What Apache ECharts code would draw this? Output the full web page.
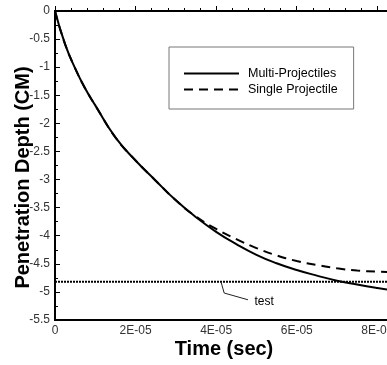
<!DOCTYPE html>
<html>
<head>
<meta charset="utf-8">
<script src="https://cdn.jsdelivr.net/npm/echarts@6/dist/echarts.min.js"></script>
<style>
	html, body { margin: 0; padding: 0; background: #fff; }
	#chart { width: 387px; height: 365px; }
</style>
</head>
<body>
<div id="chart"></div>
<script>
// time in seconds, depth in cm
const multiTime = [0, 0.25e-5, 0.5e-5, 0.75e-5, 1e-5, 1.5e-5, 2e-5, 2.5e-5, 3e-5, 3.5e-5, 4e-5, 4.5e-5, 5e-5, 5.5e-5, 6e-5, 6.5e-5, 7e-5, 7.5e-5, 8e-5, 8.4e-5];
const multiDepth = [0, -0.59, -1.02, -1.38, -1.68, -2.25, -2.66, -3.02, -3.37, -3.67, -3.93, -4.15, -4.34, -4.49, -4.61, -4.71, -4.80, -4.87, -4.93, -4.97];

const singleTime = [0, 0.25e-5, 0.5e-5, 0.75e-5, 1e-5, 1.5e-5, 2e-5, 2.5e-5, 3e-5, 3.5e-5, 4e-5, 4.5e-5, 5e-5, 5.5e-5, 6e-5, 6.5e-5, 7e-5, 7.5e-5, 8e-5, 8.4e-5];
const singleDepth = [0, -0.59, -1.02, -1.38, -1.68, -2.25, -2.66, -3.02, -3.37, -3.66, -3.88, -4.06, -4.22, -4.35, -4.45, -4.52, -4.58, -4.62, -4.64, -4.65];

const testTime = [0, 8.4e-5];
const testDepth = [-4.82, -4.82];

// leader from the test line down to its label
const leaderTime = [4.12e-5, 4.20e-5, 4.79e-5];
const leaderDepth = [-4.82, -5.02, -5.14];
const testLabel = { name: "test", time: 5.19e-5, depth: -5.18 };

const xTicks = [0, 2e-5, 4e-5, 6e-5, 8e-5];
const xMax = 8.39e-5;
const yTicks = [0, -0.5, -1, -1.5, -2, -2.5, -3, -3.5, -4, -4.5, -5, -5.5];

const seriesNames = ["Multi-Projectiles", "Single Projectile"];

const pairs = (xs, ys) => xs.map((x, i) => [x, ys[i]]);

const font = "'Liberation Sans', Arial, Helvetica, sans-serif";

const chart = echarts.init(document.getElementById("chart"), null, { renderer: "canvas" });

chart.setOption({
	animation: false,
	grid: {
		left: 55,
		top: 11,
		right: -6,
		bottom: 45,
		outerBoundsMode: "none",
		containLabel: false,
		show: true,
		borderColor: "#000",
		borderWidth: 2
	},
	legend: {
		data: seriesNames,
		orient: "vertical",
		left: 169,
		top: 47,
		padding: [20, 16, 13, 14],
		itemWidth: 55,
		itemHeight: 14,
		itemGap: 3,
		itemStyle: { opacity: 0 },
		borderColor: "#777",
		borderWidth: 1,
		textStyle: { fontFamily: font, fontSize: 12.5, color: "#000", padding: [0, 0, 0, 4] }
	},
	xAxis: {
		type: "value",
		min: xTicks[0],
		max: xMax,
		interval: xTicks[1] - xTicks[0],
		name: "Time (sec)",
		nameLocation: "middle",
		nameGap: 19,
		nameMoveOverlap: false,
		nameTextStyle: { fontFamily: font, fontSize: 20, fontWeight: "bold", color: "#000" },
		axisLine: { lineStyle: { color: "#000", width: 2 } },
		axisTick: { inside: true, length: 5, lineStyle: { color: "#000" } },
		minorTick: { show: true, splitNumber: 5, length: 3, lineStyle: { color: "#000" } },
		splitLine: { show: false },
		axisLabel: {
			margin: 5,
			showMaxLabel: false,
			fontFamily: font,
			fontSize: 12,
			color: "#333",
			formatter: v => (v === 0 ? "0" : Math.round(v / 1e-5) + "E-05")
		}
	},
	yAxis: {
		type: "value",
		min: yTicks[yTicks.length - 1],
		max: yTicks[0],
		interval: yTicks[0] - yTicks[1],
		name: "Penetration Depth (CM)",
		nameLocation: "middle",
		nameGap: 22,
		nameMoveOverlap: false,
		nameTextStyle: { fontFamily: font, fontSize: 20, fontWeight: "bold", color: "#000", padding: [0, 24, 0, 0] },
		axisLine: { lineStyle: { color: "#000", width: 2 } },
		axisTick: { inside: true, length: 5, lineStyle: { color: "#000" } },
		minorTick: { show: true, splitNumber: 2, length: 3, lineStyle: { color: "#000" } },
		splitLine: { show: false },
		axisLabel: { margin: 5, fontFamily: font, fontSize: 12, color: "#333" }
	},
	series: [
		{
			name: seriesNames[0],
			type: "line",
			data: pairs(multiTime, multiDepth),
			smooth: 0.5,
			symbol: "none",
			color: "#000",
			lineStyle: { color: "#000", width: 2 },
			z: 4
		},
		{
			name: seriesNames[1],
			type: "line",
			data: pairs(singleTime, singleDepth),
			smooth: 0.5,
			symbol: "none",
			color: "#000",
			lineStyle: { color: "#000", width: 2, type: [9, 6] },
			z: 3
		},
		{
			name: "test line",
			type: "line",
			data: pairs(testTime, testDepth),
			symbol: "none",
			lineStyle: { color: "#000", width: 2, type: [2, 1] },
			z: 2
		},
		{
			name: "test leader",
			type: "line",
			data: pairs(leaderTime, leaderDepth),
			symbol: "none",
			lineStyle: { color: "#222", width: 1 },
			markPoint: {
				symbol: "circle",
				symbolSize: 0,
				label: {
					show: true,
					formatter: testLabel.name,
					fontFamily: font,
					fontSize: 12,
					color: "#000",
					position: "inside"
				},
				data: [{ coord: [testLabel.time, testLabel.depth] }]
			},
			z: 2
		}
	]
});
</script>
</body>
</html>
